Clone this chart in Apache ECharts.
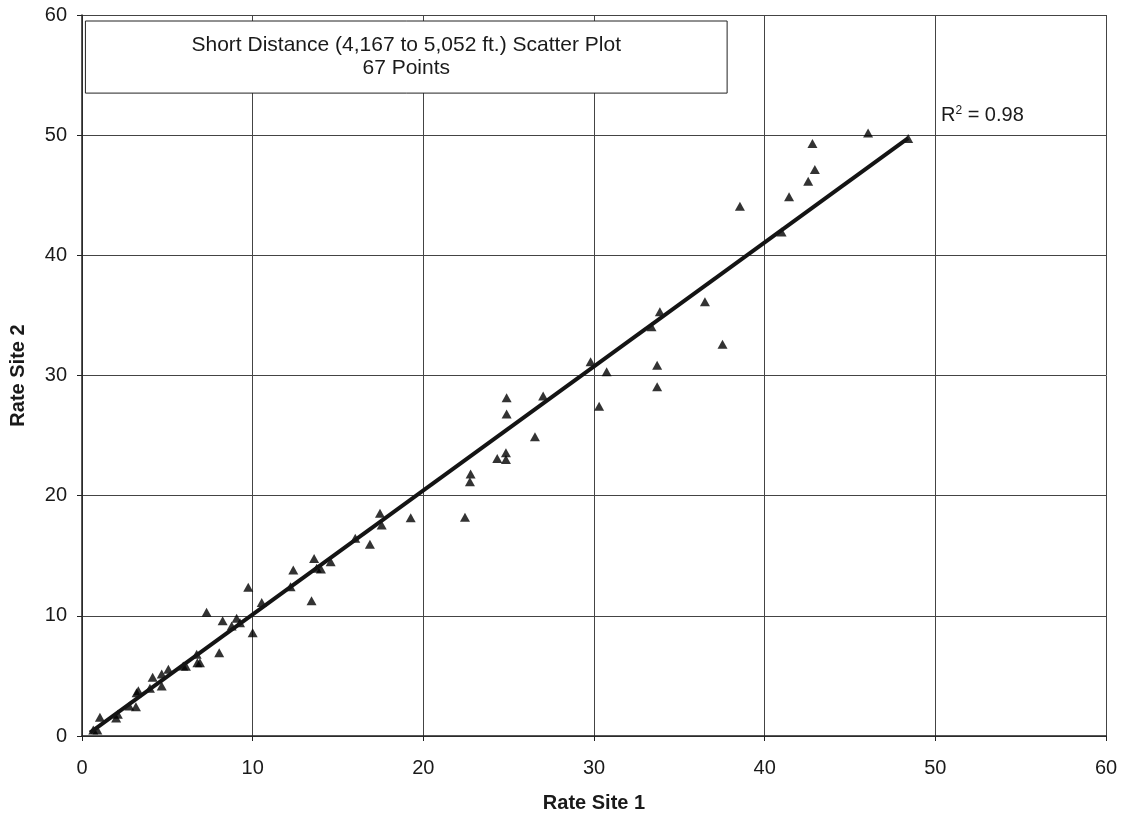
<!DOCTYPE html>
<html><head><meta charset="utf-8">
<script src="https://cdn.jsdelivr.net/npm/echarts@6/dist/echarts.min.js"></script>
<style>html,body{margin:0;padding:0;background:#fff}#c{width:1125px;height:819px}</style>
</head><body><div id="c"></div>
<script>
const siteX = [0.66,0.9,1.05,2.0,2.1,2.77,3.16,3.3,3.2,3.98,4.14,4.67,4.67,5.06,5.93,6.09,6.72,6.76,6.91,7.3,8.04,8.24,8.77,9.06,9.26,9.74,10.0,10.53,12.22,12.38,13.45,13.6,13.75,14.0,14.57,16.01,16.87,17.46,17.56,19.26,22.44,22.73,22.77,24.33,24.84,24.84,24.88,24.88,26.54,27.02,29.8,30.3,30.74,33.37,33.86,33.7,33.7,36.5,37.53,38.55,40.99,41.43,42.55,42.8,42.94,46.06,48.41];
const siteY = [0.5,0.5,1.55,1.5,1.8,2.5,2.44,3.77,3.6,3.97,4.88,4.16,5.16,5.55,5.82,5.8,6.8,6.1,6.1,10.3,6.93,9.6,9.15,9.8,9.43,12.37,8.6,11.1,12.42,13.81,11.26,14.78,13.95,13.9,14.5,16.45,15.95,18.53,17.55,18.16,18.2,21.16,21.8,23.1,23.02,23.57,26.79,28.15,24.9,28.3,31.14,27.45,30.31,34.05,35.3,30.86,29.06,36.13,32.61,44.09,41.95,44.87,46.17,49.3,47.14,50.19,49.72];
const trendX = [0.47, 48.41];
const trendY = [0.28, 49.75];
const axisTicks = [0,10,20,30,40,50,60];
const titleLines = ['Short Distance (4,167 to 5,052 ft.) Scatter Plot', '67 Points'];
const rSquared = '0.98';

const chart = echarts.init(document.getElementById('c'));
const font = 'Liberation Sans, Arial, sans-serif';
const txt = '#1a1a1a';
chart.setOption({
  animation:false,
  grid:{left:82,right:19,top:15,bottom:83,containLabel:false,outerBoundsMode:'none'},
  xAxis:{type:'value',min:axisTicks[0],max:axisTicks[axisTicks.length-1],interval:10,
    name:'Rate Site 1',nameLocation:'middle',nameGap:57,
    nameTextStyle:{fontFamily:font,fontSize:20,fontWeight:'bold',color:txt},
    axisLine:{lineStyle:{color:'#222',width:1.5}},
    axisTick:{show:true,length:5,lineStyle:{color:'#222'}},
    axisLabel:{fontFamily:font,fontSize:20,color:txt,margin:22},
    splitLine:{show:true,lineStyle:{color:'#444',width:1}}},
  yAxis:{type:'value',min:axisTicks[0],max:axisTicks[axisTicks.length-1],interval:10,
    name:'Rate Site 2',nameLocation:'middle',nameGap:54,
    nameTextStyle:{fontFamily:font,fontSize:20,fontWeight:'bold',color:txt},
    axisLine:{show:true,lineStyle:{color:'#222',width:1.5}},
    axisTick:{show:true,length:5,lineStyle:{color:'#222'}},
    axisLabel:{fontFamily:font,fontSize:20,color:txt,margin:15},
    splitLine:{show:true,lineStyle:{color:'#444',width:1}}},
  series:[
    {type:'scatter',symbol:'triangle',symbolSize:[10,9],
      itemStyle:{color:'#000'},
      data:siteX.map((x,i)=>[x,siteY[i]]),z:3,
      markArea:{silent:true,
        itemStyle:{color:'#fff',borderColor:'#222',borderWidth:1,opacity:1},
        label:{show:true,position:'inside',fontFamily:font,fontSize:21,color:txt,lineHeight:23,
          formatter:titleLines.join('\n')},
        data:[[{coord:[0.2,59.5]},{coord:[37.8,53.5]}]]}},
    {type:'line',data:trendX.map((x,i)=>[x,trendY[i]]),showSymbol:false,symbol:'none',
      lineStyle:{color:'#141414',width:4},z:4,
      markPoint:{silent:true,symbol:'rect',symbolSize:1,itemStyle:{color:'transparent'},
        label:{show:true,position:'right',distance:0,fontFamily:font,fontSize:20,color:txt,
          formatter:'{a|R}{s|2}{a| = '+rSquared+'}',
          rich:{a:{fontFamily:font,fontSize:20,color:txt},s:{fontFamily:font,fontSize:12,color:txt,verticalAlign:'top',padding:[0,0,10,0]}}},
        data:[{coord:[50.3,51.6]}]}}
  ]
});
</script></body></html>
